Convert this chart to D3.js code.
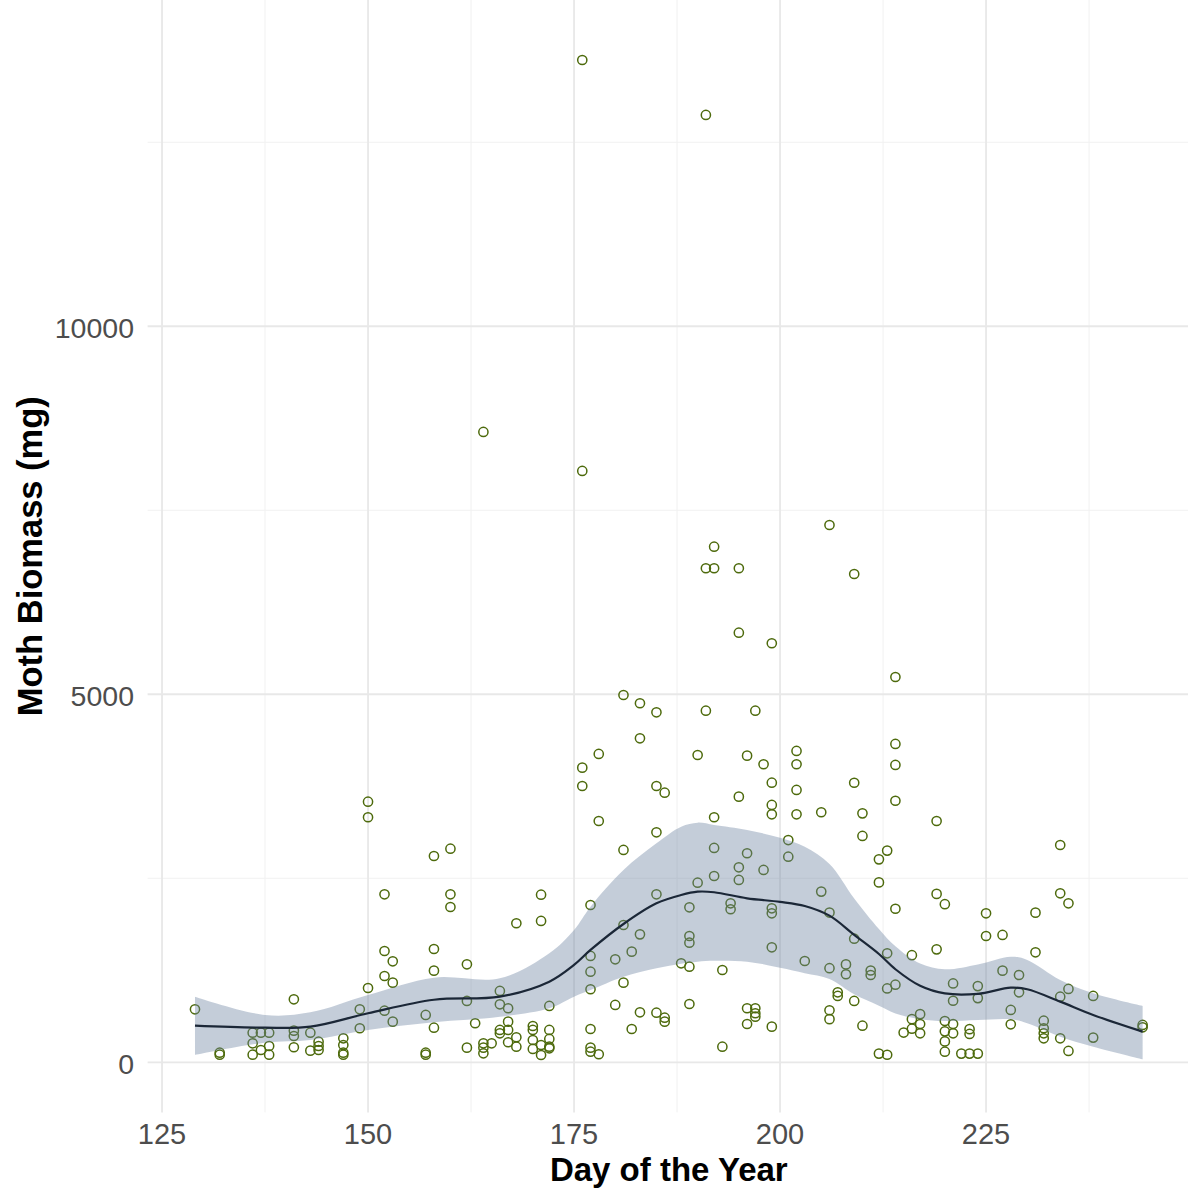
<!DOCTYPE html>
<html lang="en">
<head>
  <meta charset="UTF-8">
  <title>Moth Biomass by Day</title>
  <style>
    body { margin: 0; background: #ffffff; }
    svg { display: block; font-family: "Liberation Sans", Arial, sans-serif; }
  </style>
</head>
<body>
<div id="chart"></div>
<script src="https://d3js.org/d3.v7.min.js"></script>
<script>
// sample days and the biomass values caught on each day
const sampleDays = [129, 132, 136, 137, 138, 141, 143, 144, 147, 149, 150, 152, 153, 157, 158, 160,
  162, 163, 164, 165, 166, 167, 168, 170, 171, 172, 176, 177, 178, 180, 181, 182, 183, 185, 186,
  188, 189, 190, 191, 192, 193, 194, 195, 196, 197, 198, 199, 201, 202, 203, 205, 206, 207, 208,
  209, 210, 211, 212, 213, 214, 215, 216, 217, 219, 220, 221, 222, 223, 224, 225, 227, 228, 229,
  231, 232, 234, 235, 238, 244];

const biomassByDay = [
  [720], [130, 103], [402, 258, 103], [402, 167], [402, 221, 103], [856, 430, 357, 204],
  [402, 158], [280, 221, 167], [326, 235, 130, 103], [720, 462], [3541, 3329, 1009],
  [2282, 1512, 1172, 701], [1372, 1082, 552], [643, 130, 103], [2803, 1539, 1245, 470],
  [2902, 2282, 2110], [1331, 833, 199], [530], [8564, 258, 199, 122], [258],
  [969, 788, 439, 394], [734, 552, 439, 272], [1889, 340, 212], [493, 439, 303, 181],
  [2277, 1920, 235, 99], [765, 439, 317, 212, 190], [13618, 8034, 4003, 3754],
  [2137, 1445, 1231, 992, 452, 199, 144], [4189, 3278, 109], [1399, 779],
  [4990, 2885, 1865, 1082], [1503, 452], [4878, 4402, 1738, 679], [4755, 3754, 3125, 2282, 674],
  [3663, 606, 552], [1345], [2106, 1716, 1625, 1299, 792], [4175, 2440], [12871, 6712, 4777],
  [7005, 6712, 3329, 2912, 2531], [1254, 212], [2160, 2079], [6712, 5837, 3609, 2649, 2477],
  [4166, 2840, 734, 520], [4777, 734, 666, 620], [4049, 2613],
  [5693, 3799, 3496, 3369, 2092, 2024, 1562, 484], [3019, 2793], [4230, 4049, 3700, 3369],
  [1376], [3397, 2319], [7300, 2034, 1278, 707, 586], [951, 901], [1330, 1196],
  [6634, 3798, 1679, 833], [3382, 3075, 497], [1247, 1186], [2757, 2444, 118],
  [2876, 1481, 1003, 102], [5235, 4325, 4040, 3553, 2086, 1054], [404], [1455, 586, 456],
  [654, 520, 394], [3278, 2288, 1534], [2148, 561, 420, 284, 144], [1071, 836, 520, 394],
  [118], [450, 385, 118], [1035, 872, 118], [2024, 1716], [1730, 1245], [711, 516],
  [1186, 951], [2033, 1494], [565, 462, 394, 326], [2952, 2296, 891, 326], [2160, 996, 154],
  [901, 335], [507, 475]
];

// smoothed trend with its confidence band
const smoothDay   = [129, 137.5, 143, 150, 158, 166, 172, 175, 177, 181, 185, 188, 190, 192, 196, 200, 203, 206, 209, 212, 214, 217, 220, 224, 228, 230, 234, 238, 244];
const smoothFit   = [498, 470, 484, 666, 850, 892, 1095, 1322, 1526, 1879, 2160, 2273, 2318, 2310, 2228, 2180, 2124, 1992, 1731, 1471, 1264, 1039, 935, 930, 1014, 992, 824, 643, 416];
const smoothLower = [99, 267, 303, 439, 545, 620, 734, 892, 982, 1163, 1277, 1340, 1367, 1380, 1367, 1285, 1211, 1132, 924, 769, 664, 586, 561, 575, 584, 530, 348, 212, 41];
const smoothUpper = [892, 643, 679, 914, 1150, 1141, 1481, 1798, 2114, 2613, 2976, 3201, 3256, 3224, 3156, 3050, 2929, 2694, 2226, 1811, 1575, 1341, 1264, 1330, 1435, 1390, 1118, 937, 765];

const xTicks = [125, 150, 175, 200, 225];
const yTicks = [0, 5000, 10000];

const width = 1188;
const height = 1189;

const points = [];
sampleDays.forEach((d, i) => biomassByDay[i].forEach(v => points.push({ day: d, biomass: v })));
const smooth = smoothDay.map((d, i) => ({ day: d, fit: smoothFit[i], lo: smoothLower[i], hi: smoothUpper[i] }));

const x = d3.scaleLinear().domain([123.25, 249.75]).range([147.6, 1190]);
const y = d3.scaleLinear().domain([-681, 14433]).range([1112.4, 0]);

const svg = d3.select('#chart').append('svg')
  .attr('width', width)
  .attr('height', height);

svg.append('rect').attr('width', width).attr('height', height).attr('fill', '#ffffff');

const [px0, px1] = x.range();
const [py0, py1] = y.range();

// minor grid
const xMinor = xTicks.map(t => t + 12.5).concat([xTicks[0] - 12.5]).filter(t => x(t) > px0 && x(t) < px1);
const yMinor = yTicks.map(t => t + 2500).filter(t => y(t) > py1);

svg.append('g').selectAll('line').data(xMinor).join('line')
  .attr('x1', d => x(d)).attr('x2', d => x(d)).attr('y1', py0).attr('y2', py1)
  .attr('stroke', '#f1f1f1').attr('stroke-width', 1);
svg.append('g').selectAll('line').data(yMinor).join('line')
  .attr('x1', px0).attr('x2', px1).attr('y1', d => y(d)).attr('y2', d => y(d))
  .attr('stroke', '#f1f1f1').attr('stroke-width', 1);

// major grid
svg.append('g').selectAll('line').data(xTicks).join('line')
  .attr('x1', d => x(d)).attr('x2', d => x(d)).attr('y1', py0).attr('y2', py1)
  .attr('stroke', '#e8e8e8').attr('stroke-width', 1.8);
svg.append('g').selectAll('line').data(yTicks).join('line')
  .attr('x1', px0).attr('x2', px1).attr('y1', d => y(d)).attr('y2', d => y(d))
  .attr('stroke', '#e8e8e8').attr('stroke-width', 1.8);

// points
svg.append('g').selectAll('circle').data(points).join('circle')
  .attr('cx', d => x(d.day))
  .attr('cy', d => y(d.biomass))
  .attr('r', 4.6)
  .attr('fill', 'none')
  .attr('stroke', '#4d6a0c')
  .attr('stroke-width', 1.5);

// confidence band drawn over the points
const band = d3.area()
  .x(d => x(d.day))
  .y0(d => y(d.lo))
  .y1(d => y(d.hi))
  .curve(d3.curveCatmullRom);

svg.append('path').datum(smooth)
  .attr('d', band)
  .attr('fill', 'rgb(108,130,160)')
  .attr('opacity', 0.4);

const line = d3.line()
  .x(d => x(d.day))
  .y(d => y(d.fit))
  .curve(d3.curveCatmullRom);

svg.append('path').datum(smooth)
  .attr('d', line)
  .attr('fill', 'none')
  .attr('stroke', '#1b2737')
  .attr('stroke-width', 2.2);

// tick labels
svg.append('g').selectAll('text').data(xTicks).join('text')
  .attr('x', d => x(d))
  .attr('y', 1144)
  .attr('text-anchor', 'middle')
  .attr('font-size', 29)
  .attr('fill', '#4d4d4d')
  .text(d => d);

svg.append('g').selectAll('text').data(yTicks).join('text')
  .attr('x', 134)
  .attr('y', d => y(d) + 11.5)
  .attr('text-anchor', 'end')
  .attr('font-size', 28.5)
  .attr('fill', '#4d4d4d')
  .text(d => d);

// axis titles
svg.append('text')
  .attr('x', (px0 + px1) / 2)
  .attr('y', 1181)
  .attr('text-anchor', 'middle')
  .attr('font-size', 33)
  .attr('font-weight', 'bold')
  .attr('fill', '#000')
  .text('Day of the Year');

svg.append('text')
  .attr('transform', `translate(42,${(py0 + py1) / 2}) rotate(-90)`)
  .attr('text-anchor', 'middle')
  .attr('font-size', 34.5)
  .attr('font-weight', 'bold')
  .attr('fill', '#000')
  .text('Moth Biomass (mg)');
</script>
</body>
</html>
